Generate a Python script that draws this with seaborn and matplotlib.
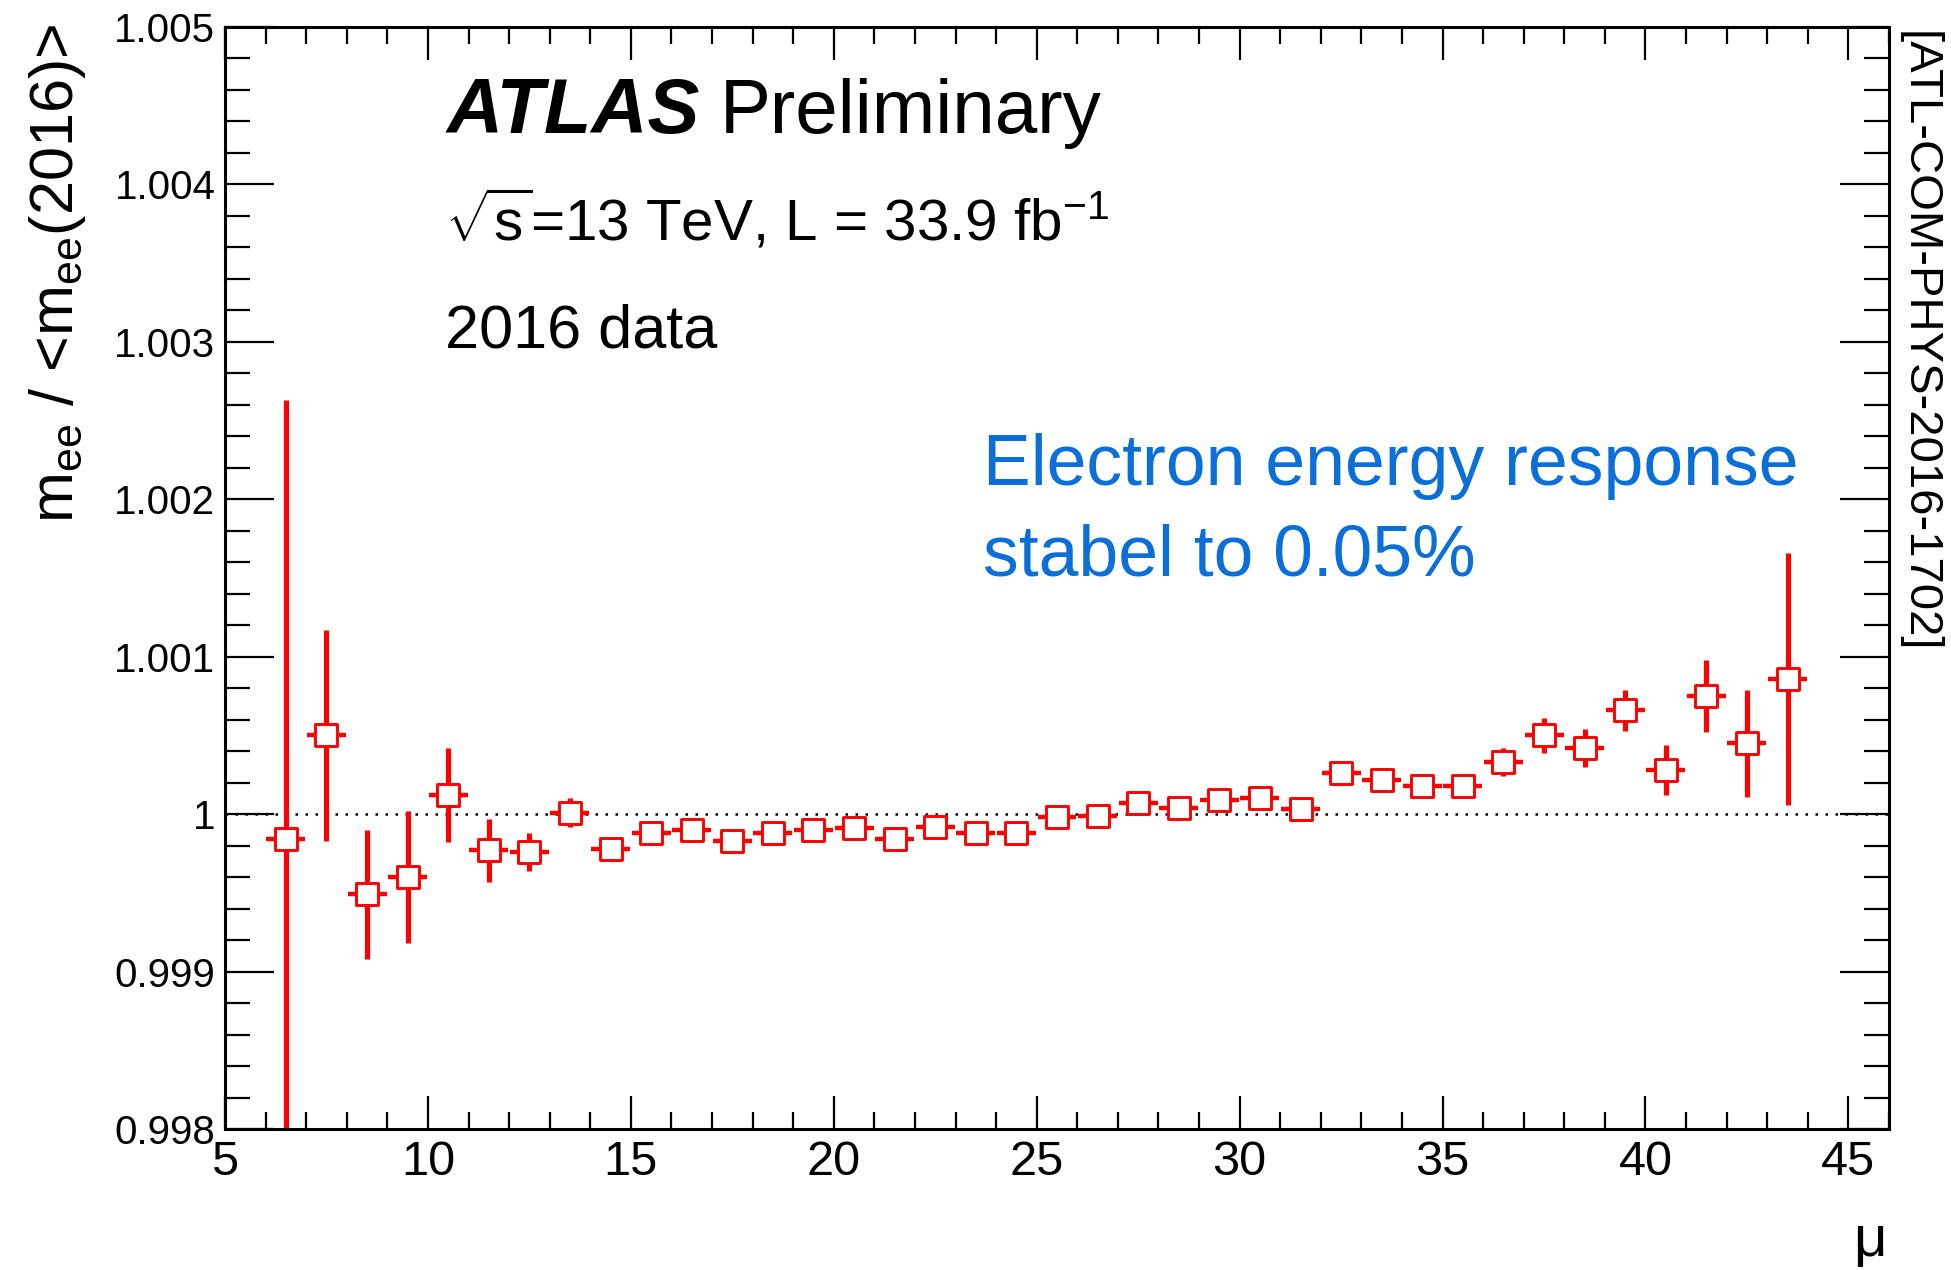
import numpy as np
import pandas as pd
import matplotlib
matplotlib.use("Agg")
import matplotlib.pyplot as plt
from matplotlib.ticker import FixedLocator, MultipleLocator, FixedFormatter
import seaborn as sns

# Average number of interactions per bunch crossing (bin centres)
mu_centres = [6.5, 7.5, 8.5, 9.5, 10.5, 11.5, 12.5, 13.5, 14.5, 15.5,
              16.5, 17.5, 18.5, 19.5, 20.5, 21.5, 22.5, 23.5, 24.5, 25.5,
              26.5, 27.5, 28.5, 29.5, 30.5, 31.5, 32.5, 33.5, 34.5, 35.5,
              36.5, 37.5, 38.5, 39.5, 40.5, 41.5, 42.5, 43.5]

# m_ee / <m_ee(2016)> per mu bin
mass_ratio = [0.99984, 1.00050, 0.99949, 0.99960, 1.00012, 0.99977, 0.99976, 1.00001, 0.99978, 0.99988,
              0.99990, 0.99983, 0.99988, 0.99990, 0.99991, 0.99984, 0.99992, 0.99988, 0.99988, 0.99998,
              0.99999, 1.00007, 1.00004, 1.00009, 1.00010, 1.00003, 1.00026, 1.00022, 1.00018, 1.00018,
              1.00033, 1.00050, 1.00042, 1.00066, 1.00028, 1.00075, 1.00045, 1.00086]

# statistical uncertainty per bin
ratio_err = [0.00279, 0.00067, 0.00041, 0.00042, 0.00030, 0.00020, 0.00012, 0.00009, 0.00005, 0.00005,
             0.00005, 0.00005, 0.00005, 0.00005, 0.00005, 0.00005, 0.00005, 0.00005, 0.00005, 0.00005,
             0.00005, 0.00005, 0.00005, 0.00005, 0.00005, 0.00005, 0.00006, 0.00006, 0.00006, 0.00006,
             0.00009, 0.00011, 0.00012, 0.00013, 0.00016, 0.00023, 0.00034, 0.00080]

bin_half_width = 0.48

x_major_ticks = [5, 10, 15, 20, 25, 30, 35, 40, 45]
x_tick_labels = ["5", "10", "15", "20", "25", "30", "35", "40", "45"]
y_major_ticks = [0.998, 0.999, 1.000, 1.001, 1.002, 1.003, 1.004, 1.005]
y_tick_labels = ["0.998", "0.999", "1", "1.001", "1.002", "1.003", "1.004", "1.005"]

df = pd.DataFrame({"mu": mu_centres, "ratio": mass_ratio, "err": ratio_err})

sns.set_theme(style="ticks")
plt.rcParams["font.family"] = ["Liberation Sans", "DejaVu Sans"]
plt.rcParams["text.color"] = "black"
plt.rcParams["axes.labelcolor"] = "black"
plt.rcParams["xtick.color"] = "black"
plt.rcParams["ytick.color"] = "black"
plt.rcParams["mathtext.fontset"] = "custom"
plt.rcParams["mathtext.rm"] = "Liberation Sans"
plt.rcParams["mathtext.it"] = "Liberation Sans:italic"
plt.rcParams["mathtext.bf"] = "Liberation Sans:bold"
plt.rcParams["mathtext.default"] = "regular"

W, H = 1951, 1270
fig = plt.figure(figsize=(W / 100, H / 100), dpi=100)
fig.patch.set_facecolor("white")

ax_l, ax_r, ax_t, ax_b = 225, 1889, 27, 1129
ax = fig.add_axes([ax_l / W, 1 - ax_b / H, (ax_r - ax_l) / W, (ax_b - ax_t) / H])
ax.set_facecolor("white")


def fx(px):
    return px / W


def fy(py):
    return 1 - py / H


red = "#ff0000"
ink = "black"

# reference line at unity
ax.axhline(1.0, color=ink, lw=1.8, linestyle=(0, (1, 3)), zorder=1)

# vertical (statistical) error bars
ax.errorbar(df["mu"], df["ratio"], yerr=df["err"], fmt="none",
            ecolor=red, elinewidth=3.7, capsize=0, zorder=2)
# horizontal bin-width bars
ax.errorbar(df["mu"], df["ratio"], xerr=bin_half_width, fmt="none",
            ecolor=red, elinewidth=3.2, capsize=0, zorder=2)

# open square markers
sns.scatterplot(data=df, x="mu", y="ratio", marker="s", s=260,
                facecolor="white", edgecolor=red, linewidth=2.1,
                zorder=3, ax=ax, legend=False)

ax.set_xlim(5, 46)
ax.set_ylim(0.998, 1.005)

ax.xaxis.set_major_locator(FixedLocator(x_major_ticks))
ax.xaxis.set_major_formatter(FixedFormatter(x_tick_labels))
ax.xaxis.set_minor_locator(MultipleLocator(1))
ax.yaxis.set_major_locator(FixedLocator(y_major_ticks))
ax.yaxis.set_major_formatter(FixedFormatter(y_tick_labels))
ax.yaxis.set_minor_locator(MultipleLocator(0.0002))

ax.tick_params(axis="x", which="major", direction="in", length=24, width=1.6,
               top=True, bottom=True, labelsize=35, pad=8, colors=ink)
ax.tick_params(axis="x", which="minor", direction="in", length=12, width=1.6,
               top=True, bottom=True, colors=ink)
ax.tick_params(axis="y", which="major", direction="in", length=35, width=1.6,
               left=True, right=True, labelsize=29, pad=7, colors=ink)
ax.tick_params(axis="y", which="minor", direction="in", length=18, width=1.6,
               left=True, right=True, colors=ink)

for sp in ax.spines.values():
    sp.set_visible(True)
    sp.set_linewidth(2.2)
    sp.set_color(ink)

ax.set_xlabel("")
ax.set_ylabel("")

# axis titles
fig.text(fx(88), fy(24), r"m$_{ee}$ / <m$_{ee}$(2016)>", rotation=90,
         ha="right", va="top", fontsize=44, color=ink)
fig.text(fx(1887), fy(1256), "μ", ha="right", va="baseline",
         fontsize=42, color=ink)

# labels
fig.text(fx(447), fy(133), "ATLAS", fontsize=56, fontweight="bold",
         fontstyle="italic", ha="left", va="baseline", color=ink)
fig.text(fx(720), fy(133), "Preliminary", fontsize=55,
         ha="left", va="baseline", color=ink)
fig.text(fx(445), fy(241), r"$\sqrt{s}$=13 TeV, L = 33.9 fb$^{-1}$",
         fontsize=42, ha="left", va="baseline", color=ink)
fig.text(fx(445), fy(348), "2016 data", fontsize=44, ha="left",
         va="baseline", color=ink)

blue = "#0a6fd8"
fig.text(fx(983), fy(485), "Electron energy response", fontsize=51.5,
         color=blue, ha="left", va="baseline")
fig.text(fx(983), fy(576), "stabel to 0.05%", fontsize=51.5,
         color=blue, ha="left", va="baseline")

fig.text(fx(1897), fy(31), "[ATL-COM-PHYS-2016-1702]", rotation=-90,
         ha="left", va="top", fontsize=34, color=ink)

fig.savefig("out.png", dpi=100, facecolor="white")
